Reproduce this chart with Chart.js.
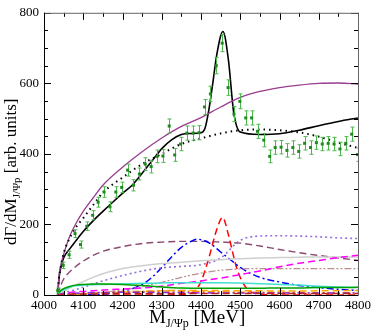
<!DOCTYPE html>
<html>
<head>
<meta charset="utf-8">
<script src="https://cdn.jsdelivr.net/npm/chart.js@4.4.1/dist/chart.umd.min.js"></script>
<style>
  html, body { margin: 0; padding: 0; background: #fff; }
  canvas { display: block; }
</style>
</head>
<body>
<canvas id="grafico" width="374" height="331"></canvas>
<script>
// datos medidos (M en MeV, dGamma/dM en unidades arbitrarias)
const datosM = [4035, 4049, 4064, 4079, 4093, 4109, 4124, 4138, 4153, 4168, 4183, 4198, 4213, 4228, 4243, 4258, 4273, 4288, 4303, 4319,
                4333, 4348, 4364, 4380, 4395, 4409, 4424, 4439, 4454, 4469, 4484, 4499, 4514, 4529, 4544, 4560, 4575, 4589, 4604, 4619,
                4634, 4649, 4664, 4679, 4694, 4709, 4724, 4739, 4754, 4769, 4784, 4799];
const datosV = [13, 84, 114, 174, 143, 195, 226, 263, 292, 250, 292, 305, 354, 311, 343, 371, 364, 393, 394, 479,
                397, 428, 459, 459, 460, 533, 570, 650, 714, 588, 513, 549, 502, 502, 464, 439, 393, 418, 419, 410,
                418, 407, 430, 418, 432, 428, 430, 428, 414, 430, 456, 398];
const datosErr = [7, 9, 10, 11, 10, 12, 13, 14, 15, 14, 15, 15, 17, 16, 17, 18, 18, 18, 18, 20,
                  18, 19, 20, 20, 20, 21, 22, 23, 24, 22, 21, 21, 20, 20, 20, 19, 18, 19, 19, 19,
                  19, 19, 19, 19, 19, 19, 19, 19, 19, 19, 20, 19];

// ajuste total
const totalM = [4035, 4038, 4042, 4050, 4065, 4080, 4100, 4125, 4150, 4175, 4200, 4225, 4250, 4275, 4300, 4325, 4350, 4375, 4400,
                4410, 4420, 4430, 4440, 4456, 4470, 4483, 4500, 4550, 4600, 4650, 4700, 4750, 4800];
const totalV = [0, 45, 75, 105, 130, 152, 180, 210, 237, 263, 288, 312, 345, 380, 415, 440, 455, 458, 460,
                472, 525, 600, 680, 747, 665, 520, 462, 455, 457, 467, 480, 492, 502];

// malla común para las contribuciones suaves
const mallaM = [4035, 4038, 4042, 4050, 4065, 4080, 4100, 4125, 4150, 4200, 4250, 4300, 4350, 4400, 4450, 4500, 4550, 4600, 4650, 4700, 4750, 4800];
const moradoV   = [0, 50, 80, 115, 165, 200, 237, 275, 311, 362, 406, 445, 478, 503, 533, 560, 577, 588, 595, 600, 601, 598];
const punteadoV = [0, 45, 75, 118, 160, 190, 218, 255, 290, 333, 371, 400, 428, 444, 458, 467, 469, 467, 461, 449, 432, 417];
const granateV  = [0, 12, 25, 45, 65, 80, 96, 112, 124, 137, 146, 150, 152, 152, 150, 147, 139, 129, 120, 112, 105, 98];
const violetaV  = [0, 2, 4, 6, 11, 15, 22, 31, 40, 55, 68, 77, 81, 86, 105, 155, 167, 168, 167, 165, 162, 160];
const grisV     = [0, 3, 6, 10, 20, 28, 38, 50, 60, 75, 83, 89, 93, 97, 100, 103, 105, 106, 107, 108, 108, 108];
const rosadoV   = [0, 0, 0, 1, 2, 2, 3, 5, 8, 14, 24, 36, 50, 62, 70, 74, 75, 75, 75, 75, 75, 75];
const magentaV  = [0, 2, 3, 5, 7, 9, 10, 12, 14, 17, 20, 25, 33, 40, 48, 58, 68, 80, 90, 98, 106, 113];
const cianV     = [0, 5, 10, 15, 22, 26, 28, 29, 30, 32, 33, 34, 35, 35, 35, 34, 32, 30, 28, 25, 23, 21];
const verdeV    = [0, 6, 12, 18, 24, 28, 30, 31, 31, 30, 27, 23, 20, 19, 19, 19, 19, 20, 20, 21, 21, 22];
const naranjaV  = [0, 0, 1, 1, 2, 3, 4, 5, 6, 8, 10, 12, 13, 13, 13, 12, 12, 11, 11, 12, 12, 13];
const naranja2V = [0, 0, 0, 1, 2, 3, 4, 6, 7, 9, 10, 11, 11, 10, 9, 8, 8, 7, 7, 6, 6, 6];
const violeta2V = [0, 1, 2, 3, 4, 5, 6, 7, 7, 8, 8, 7, 7, 6, 6, 6, 6, 6, 6, 6, 6, 6];
const rojoBajoV = [0, 1, 1, 2, 2, 3, 3, 3, 4, 4, 4, 4, 4, 4, 4, 4, 4, 4, 4, 4, 4, 4];

// contribución azul (punto-raya)
const azulM = [4035, 4100, 4150, 4200, 4250, 4275, 4300, 4325, 4350, 4375, 4390, 4410, 4425, 4450, 4475, 4500, 4525, 4550, 4600, 4650, 4700, 4750, 4800];
const azulV = [0, 1, 3, 10, 30, 50, 78, 108, 135, 152, 158, 154, 145, 122, 100, 78, 62, 50, 37, 27, 21, 16, 13];

// pico rojo (rayas)
const rojoM = [4035, 4300, 4350, 4380, 4400, 4420, 4440, 4455, 4470, 4490, 4508, 4525, 4550, 4600, 4800];
const rojoV = [0, 0, 1, 8, 38, 105, 185, 220, 170, 80, 32, 10, 2, 0, 0];

const ejeXTicks = [4000, 4100, 4200, 4300, 4400, 4500, 4600, 4700, 4800];
const ejeYTicks = [0, 200, 400, 600, 800];

const serif = "'Liberation Serif', 'DejaVu Serif', serif";

const puntos = (ms, vs) => ms.map((m, i) => ({ x: m, y: vs[i] }));

function curva(ms, vs, color, dash, ancho) {
    return {
        data: puntos(ms, vs),
        borderColor: color,
        borderWidth: ancho || 1,
        borderDash: dash || [],
        pointRadius: 0,
        fill: false,
        cubicInterpolationMode: 'monotone'
    };
}

const RAYA = [7, 4];
const PUNTO_RAYA = [7, 3, 2, 3];
const PUNTO_PUNTO_RAYA = [7, 2, 2, 2, 2, 2];

// barras de error
const barrasError = {
    id: 'barrasError',
    afterDatasetsDraw(chart) {
        const { ctx, scales: { x, y }, chartArea } = chart;
        ctx.save();
        ctx.beginPath();
        ctx.rect(chartArea.left, chartArea.top, chartArea.right - chartArea.left, chartArea.bottom - chartArea.top);
        ctx.clip();
        ctx.strokeStyle = '#4cb84c';
        ctx.lineWidth = 1;
        datosM.forEach((m, i) => {
            const px = Math.round(x.getPixelForValue(m)) + 0.5;
            const y1 = y.getPixelForValue(datosV[i] - datosErr[i]);
            const y2 = y.getPixelForValue(datosV[i] + datosErr[i]);
            ctx.beginPath();
            ctx.moveTo(px, y1); ctx.lineTo(px, y2);
            ctx.moveTo(px - 2, y1); ctx.lineTo(px + 2, y1);
            ctx.moveTo(px - 2, y2); ctx.lineTo(px + 2, y2);
            ctx.stroke();
        });
        ctx.fillStyle = '#1e8a1e';
        datosM.forEach((m, i) => {
            const px = x.getPixelForValue(m);
            const py = y.getPixelForValue(datosV[i]);
            ctx.fillRect(px - 1.5, py - 1.5, 3, 3);
        });
        ctx.restore();
    }
};

// marco, marcas hacia dentro y títulos de ejes
const marco = {
    id: 'marco',
    afterDraw(chart) {
        const { ctx, scales: { x, y }, chartArea: a } = chart;
        ctx.save();
        ctx.lineWidth = 1;
        ctx.strokeStyle = '#000';
        for (let m = 4000; m <= 4800; m += 50) {
            const px = Math.round(x.getPixelForValue(m)) + 0.5;
            const largo = m % 100 === 0 ? 7 : 4;
            ctx.beginPath();
            ctx.moveTo(px, a.bottom); ctx.lineTo(px, a.bottom - largo);
            ctx.moveTo(px, a.top); ctx.lineTo(px, a.top + largo);
            ctx.stroke();
        }
        for (let v = 0; v <= 800; v += 50) {
            const py = Math.round(y.getPixelForValue(v)) + 0.5;
            const largo = v % 200 === 0 ? 7 : 4;
            ctx.beginPath();
            ctx.moveTo(a.left, py); ctx.lineTo(a.left + largo, py);
            ctx.moveTo(a.right, py); ctx.lineTo(a.right - largo, py);
            ctx.stroke();
        }
        ctx.strokeStyle = '#666';
        ctx.beginPath();
        ctx.moveTo(a.left, a.top + 0.5); ctx.lineTo(a.right + 0.5, a.top + 0.5); ctx.lineTo(a.right + 0.5, a.bottom);
        ctx.stroke();
        ctx.strokeStyle = '#000';
        ctx.beginPath();
        ctx.moveTo(a.left + 0.5, a.top); ctx.lineTo(a.left + 0.5, a.bottom + 0.5); ctx.lineTo(a.right + 0.5, a.bottom + 0.5);
        ctx.stroke();

        // título eje x: M_{J/Ψp} [MeV]
        ctx.fillStyle = '#000';
        ctx.textBaseline = 'alphabetic';
        const partesX = [['M', 19, 0], ['J/\u03A8p', 12, 4], [' [MeV]', 19, 0]];
        dibujarTexto(ctx, partesX, 149, 323, 0);

        // título eje y: dΓ/dM_{J/Ψp} [arb. units]
        const partesY = [['d\u0393/dM', 17, 0], ['J/\u03A8p', 11, 4], [' [arb. units]', 17, 0]];
        dibujarTexto(ctx, partesY, 16, 245, -Math.PI / 2);
        ctx.restore();
    }
};

function dibujarTexto(ctx, partes, x0, y0, angulo) {
    ctx.save();
    ctx.translate(x0, y0);
    ctx.rotate(angulo);
    let dx = 0;
    partes.forEach(([t, tam, baja]) => {
        ctx.font = tam + 'px ' + serif;
        ctx.fillText(t, dx, baja);
        dx += ctx.measureText(t).width;
    });
    ctx.restore();
}

const ctx = document.getElementById('grafico').getContext('2d');

window.graficaEspectro = new Chart(ctx, {
    type: 'line',
    data: {
        datasets: [
            curva(mallaM, rojoBajoV, '#b22222', RAYA, 1.5),
            curva(mallaM, violeta2V, '#8a2be2', PUNTO_RAYA, 1.5),
            curva(mallaM, naranja2V, '#ff8c00', PUNTO_RAYA, 1.5),
            curva(mallaM, naranjaV, '#ffa500', RAYA, 1.5),
            curva(mallaM, verdeV, '#00a000', [], 1.5),
            curva(mallaM, cianV, '#40e0d0', [], 1.5),
            curva(mallaM, magentaV, '#ff00ff', RAYA, 1.5),
            curva(mallaM, rosadoV, '#bc8f8f', PUNTO_PUNTO_RAYA, 1.2),
            curva(mallaM, grisV, '#cfcfcf', [], 1.5),
            curva(mallaM, violetaV, '#9370db', [2, 3], 1.6),
            curva(azulM, azulV, '#0000ff', PUNTO_RAYA, 1.5),
            curva(rojoM, rojoV, '#ff0000', RAYA, 1.5),
            curva(mallaM, granateV, '#8b4a74', RAYA, 1.4),
            curva(mallaM, punteadoV, '#000000', [1.5, 4], 2),
            curva(mallaM, moradoV, '#993d8f', [], 1.3),
            curva(totalM, totalV, '#000000', [], 1.6)
        ]
    },
    options: {
        responsive: false,
        animation: false,
        devicePixelRatio: 1,
        layout: { padding: { top: 4, right: 11, left: 0, bottom: 0 } },
        plugins: {
            legend: { display: false },
            tooltip: { enabled: false }
        },
        scales: {
            x: {
                type: 'linear',
                min: 4000,
                max: 4800,
                afterBuildTicks: s => { s.ticks = ejeXTicks.map(v => ({ value: v })); },
                afterFit: s => { s.height = 36; },
                ticks: { color: '#000', font: { family: serif, size: 13 }, maxRotation: 0, autoSkip: false, padding: 3, callback: v => String(v) },
                grid: { display: false, drawTicks: false },
                border: { display: false }
            },
            y: {
                min: 0,
                max: 800,
                afterBuildTicks: s => { s.ticks = ejeYTicks.map(v => ({ value: v })); },
                afterFit: s => { s.width = 44; },
                ticks: { color: '#000', font: { family: serif, size: 13 }, padding: 5, callback: v => String(v) },
                grid: { display: false, drawTicks: false },
                border: { display: false }
            }
        }
    },
    plugins: [barrasError, marco]
});
</script>
</body>
</html>
